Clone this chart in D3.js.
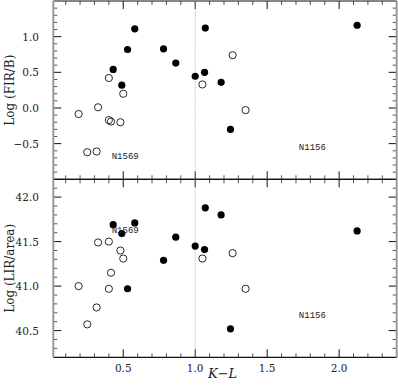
<!DOCTYPE html>
<html>
<head>
<meta charset="utf-8">
<script src="https://cdn.jsdelivr.net/npm/d3@7"></script>
<style>
  body { margin: 0; background: #fff; }
  svg { display: block; }
  .tick-label { font-family: "DejaVu Serif", "Liberation Serif", serif; font-size: 10.5px; fill: #222; }
  .ax-title { font-family: "DejaVu Serif", "Liberation Serif", serif; font-size: 12px; fill: #222; }
  .gal { font-family: "Liberation Mono", "DejaVu Sans Mono", monospace; font-size: 9px; fill: #222; }
</style>
</head>
<body>
<svg width="398" height="387"></svg>
<script>
"use strict";

// K-L colour, shared by both panels
const klOpen = [0.19, 0.25, 0.315, 0.325, 0.40, 0.40, 0.415, 0.48, 0.50, 1.05, 1.26, 1.35];
const klFilled = [0.43, 0.49, 0.53, 0.58, 0.78, 0.865, 1.00, 1.07, 1.065, 1.18, 1.245, 2.125];

// Log (FIR/B)
const firOpen = [-0.085, -0.62, -0.61, 0.01, 0.42, -0.17, -0.19, -0.20, 0.20, 0.33, 0.74, -0.03];
const firFilled = [0.54, 0.32, 0.82, 1.11, 0.83, 0.63, 0.445, 1.12, 0.50, 0.36, -0.30, 1.16];

// Log (LIR/area)
const lirOpen = [41.00, 40.57, 40.76, 41.49, 41.50, 40.97, 41.15, 41.40, 41.31, 41.31, 41.37, 40.97];
const lirFilled = [41.69, 41.59, 40.97, 41.71, 41.29, 41.55, 41.45, 41.88, 41.41, 41.80, 40.52, 41.62];

const xTicks = [0.5, 1.0, 1.5, 2.0];
const firTicks = [-0.5, 0.0, 0.5, 1.0];
const lirTicks = [40.5, 41.0, 41.5, 42.0];

const labelsTop = [{name: "N1569", x: 0.42, y: -0.67}, {name: "N1156", x: 1.72, y: -0.55}];
const labelsBot = [{name: "N1569", x: 0.42, y: 41.63}, {name: "N1156", x: 1.72, y: 40.67}];

const left = 53.3, right = 396.7;
const svg = d3.select("svg");

const xScale = d3.scaleLinear().domain([0.014, 2.4]).range([left, right]);

function fmt(v) {
    return d3.format(".1f")(v).replace("-", "\u2212");
}

function drawPanel(top, bottom, domain, yTicks, open, filled, labels, title, showX) {
    const yScale = d3.scaleLinear().domain(domain).range([bottom, top]);
    const g = svg.append("g");

    // minor + major ticks, all four sides, pointing inward
    const xMinor = d3.range(0.1, 2.4, 0.1).map(v => +v.toFixed(1));
    xMinor.forEach(v => {
        const major = Math.abs(v * 2 - Math.round(v * 2)) < 1e-6;
        const len = major ? 8 : 4;
        const px = xScale(v);
        g.append("line").attr("x1", px).attr("x2", px).attr("y1", bottom).attr("y2", bottom - len)
            .attr("stroke", major ? "#111" : "#555").attr("stroke-width", 1);
        g.append("line").attr("x1", px).attr("x2", px).attr("y1", top).attr("y2", top + len)
            .attr("stroke", major ? "#111" : "#555").attr("stroke-width", 1);
    });

    const yStart = Math.ceil(domain[0] * 10 + 1e-6), yEnd = Math.floor(domain[1] * 10 - 1e-6);
    d3.range(yStart, yEnd + 1).forEach(i => {
        const v = i / 10;
        const major = i % 5 === 0;
        const len = major ? 8 : 4;
        const py = yScale(v);
        g.append("line").attr("x1", left).attr("x2", left + len).attr("y1", py).attr("y2", py)
            .attr("stroke", major ? "#111" : "#555").attr("stroke-width", 1);
        g.append("line").attr("x1", right).attr("x2", right - len).attr("y1", py).attr("y2", py)
            .attr("stroke", major ? "#111" : "#555").attr("stroke-width", 1);
    });

    // frame
    g.append("line").attr("x1", left).attr("x2", right).attr("y1", top).attr("y2", top)
        .attr("stroke", "#111").attr("stroke-width", 1.2);
    g.append("line").attr("x1", left).attr("x2", right).attr("y1", bottom).attr("y2", bottom)
        .attr("stroke", "#111").attr("stroke-width", 1.2);
    g.append("line").attr("x1", left).attr("x2", left).attr("y1", top).attr("y2", bottom)
        .attr("stroke", "#999").attr("stroke-width", 2);
    g.append("line").attr("x1", right).attr("x2", right).attr("y1", top).attr("y2", bottom)
        .attr("stroke", "#999").attr("stroke-width", 2);

    // dotted line at K-L = 1
    g.append("line").attr("x1", xScale(1)).attr("x2", xScale(1)).attr("y1", top).attr("y2", bottom)
        .attr("stroke", "#999").attr("stroke-width", 0.7).attr("stroke-dasharray", "1,1");

    // y tick labels
    g.selectAll(".ylab").data(yTicks).join("text")
        .attr("class", "tick-label")
        .attr("x", 39).attr("y", d => yScale(d) + 4)
        .attr("text-anchor", "end")
        .text(fmt);

    if (showX) {
        g.selectAll(".xlab").data(xTicks).join("text")
            .attr("class", "tick-label")
            .attr("x", d => xScale(d)).attr("y", bottom + 15)
            .attr("text-anchor", "middle")
            .text(fmt);
    }

    // y title
    const cy = (top + bottom) / 2;
    g.append("text").attr("class", "ax-title")
        .attr("transform", `translate(14,${cy}) rotate(-90)`)
        .attr("text-anchor", "middle")
        .text(title);

    // points
    g.selectAll(".open").data(d3.zip(klOpen, open)).join("circle")
        .attr("cx", d => xScale(d[0])).attr("cy", d => yScale(d[1]))
        .attr("r", 3.6).attr("fill", "none").attr("stroke", "#111").attr("stroke-width", 0.9);
    g.selectAll(".filled").data(d3.zip(klFilled, filled)).join("circle")
        .attr("cx", d => xScale(d[0])).attr("cy", d => yScale(d[1]))
        .attr("r", 3.6).attr("fill", "#000");

    g.selectAll(".gal").data(labels).join("text")
        .attr("class", "gal")
        .attr("x", d => xScale(d.x)).attr("y", d => yScale(d.y) + 3)
        .text(d => d.name);
}

drawPanel(1, 179.3, [-1.0, 1.5], firTicks, firOpen, firFilled, labelsTop, "Log (FIR/B)", false);
drawPanel(179.3, 357.3, [40.2, 42.2], lirTicks, lirOpen, lirFilled, labelsBot, "Log (LIR/area)", true);

svg.append("text").attr("class", "ax-title")
    .attr("x", xScale(1.19)).attr("y", 378)
    .attr("text-anchor", "middle")
    .style("font-style", "italic")
    .style("font-size", "13px")
    .text("K\u2212L");
</script>
</body>
</html>
